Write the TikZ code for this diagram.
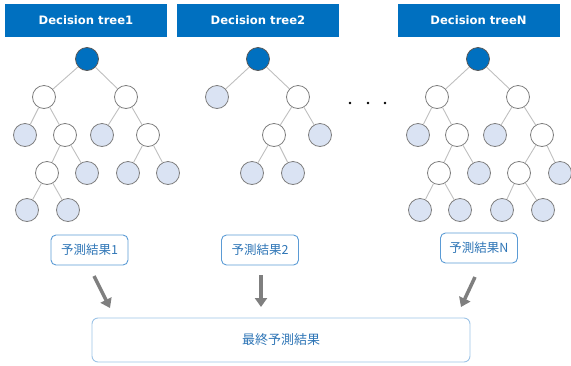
\documentclass[tikz,border=0pt]{standalone}
\usepackage{fontspec}
\newfontfamily\cjk{Noto Sans CJK JP}
\newfontfamily\headfont{DejaVu Sans}
\usetikzlibrary{arrows.meta}
\definecolor{hdblue}{HTML}{0070C0}
\definecolor{leafblue}{HTML}{DAE3F3}
\definecolor{nodegray}{HTML}{7F7F7F}
\definecolor{edgegray}{HTML}{BFBFBF}
\definecolor{boxblue}{HTML}{5B9BD5}
\definecolor{finalblue}{HTML}{9DC3E6}
\definecolor{textblue}{HTML}{2E75B6}
\begin{document}
\begin{tikzpicture}[x=1pt, y=-1pt,
    header/.style={fill=hdblue, text=white, minimum width=162pt, minimum height=33pt,
        inner sep=0pt, font=\headfont\bfseries\fontsize{11.6}{13}\selectfont},
    rootnode/.style={circle, draw=nodegray!70!black, fill=hdblue, minimum size=23pt, inner sep=0pt, line width=0.8pt},
    innernode/.style={circle, draw=nodegray, fill=white, minimum size=23pt, inner sep=0pt, line width=0.8pt},
    leafnode/.style={circle, draw=nodegray, fill=leafblue, minimum size=23pt, inner sep=0pt, line width=0.8pt},
    edge/.style={draw=edgegray, line width=0.9pt},
    result/.style={draw=boxblue, rounded corners=5pt, line width=0.9pt, text=textblue,
        minimum width=77pt, minimum height=30pt, inner sep=0pt, font=\cjk\fontsize{12.5}{14}\selectfont},
    bigarrow/.style={-{Triangle[width=12pt, length=9pt]}, line width=3.5pt, draw=nodegray}]

    % 画布大小
    \useasboundingbox (0,0) rectangle (571,365);

    % 标题
    \node[header] (h1) at (86,20) {Decision tree1};
    \node[header] (h2) at (258,20) {Decision tree2};
    \node[header] (hN) at (478.5,20) {Decision treeN};

    % 决策树 1
    \node[rootnode] (a0) at (87,59) {};
    \node[innernode] (a1) at (44,97) {};
    \node[innernode] (a2) at (126,97) {};
    \node[leafnode] (a3) at (25,135) {};
    \node[innernode] (a4) at (65,135) {};
    \node[leafnode] (a5) at (102,135) {};
    \node[innernode] (a6) at (148,135) {};
    \node[innernode] (a7) at (47,173) {};
    \node[leafnode] (a8) at (87,173) {};
    \node[leafnode] (a9) at (128,173) {};
    \node[leafnode] (a10) at (168,173) {};
    \node[leafnode] (a11) at (27,210) {};
    \node[leafnode] (a12) at (68,210) {};
    \foreach \p/\c in {a0/a1, a0/a2, a1/a3, a1/a4, a2/a5, a2/a6, a4/a7, a4/a8, a6/a9, a6/a10, a7/a11, a7/a12}
        \draw[edge] (\p) -- (\c);

    % 决策树 2
    \node[rootnode] (b0) at (258,59) {};
    \node[leafnode] (b1) at (217,97) {};
    \node[innernode] (b2) at (298,97) {};
    \node[innernode] (b3) at (274,135) {};
    \node[leafnode] (b4) at (320,135) {};
    \node[leafnode] (b5) at (252,173) {};
    \node[leafnode] (b6) at (293,173) {};
    \foreach \p/\c in {b0/b1, b0/b2, b2/b3, b2/b4, b3/b5, b3/b6}
        \draw[edge] (\p) -- (\c);

    % 省略号
    \foreach \x in {350,368,385}
        \fill (\x,103) circle (1.4pt);

    % 决策树 N
    \node[rootnode] (n0) at (478,59) {};
    \node[innernode] (n1) at (437,97) {};
    \node[innernode] (n2) at (518,97) {};
    \node[leafnode] (n3) at (418,135) {};
    \node[innernode] (n4) at (457,135) {};
    \node[leafnode] (n5) at (495,135) {};
    \node[innernode] (n6) at (542,135) {};
    \node[innernode] (n7) at (439,173) {};
    \node[leafnode] (n8) at (479,173) {};
    \node[innernode] (n9) at (519,173) {};
    \node[leafnode] (n10) at (560,173) {};
    \node[leafnode] (n11) at (420,210) {};
    \node[leafnode] (n12) at (460,210) {};
    \node[leafnode] (n13) at (502,210) {};
    \node[leafnode] (n14) at (543,210) {};
    \foreach \p/\c in {n0/n1, n0/n2, n1/n3, n1/n4, n2/n5, n2/n6, n4/n7, n4/n8, n6/n9, n6/n10, n7/n11, n7/n12, n9/n13, n9/n14}
        \draw[edge] (\p) -- (\c);

    % 预测结果
    \node[result] (r1) at (89.5,250) {予測結果1};
    \node[result] (r2) at (260,250) {予測結果2};
    \node[result] (rN) at (479,248) {予測結果N};

    % 最终结果
    \node[draw=finalblue, rounded corners=6pt, line width=0.9pt, minimum width=378pt, minimum height=44pt,
        inner sep=0pt, text=textblue, font=\cjk\fontsize{13}{15}\selectfont] (fin) at (281,340) {最終予測結果};

    % 箭头
    \coordinate (s1) at (94,276);  \coordinate (e1) at (110,308);
    \coordinate (s2) at (261,275); \coordinate (e2) at (261,307);
    \coordinate (sN) at (475,277); \coordinate (eN) at (461,307);
    \draw[bigarrow] (s1) -- (e1);
    \draw[bigarrow] (s2) -- (e2);
    \draw[bigarrow] (sN) -- (eN);
\end{tikzpicture}
\end{document}
